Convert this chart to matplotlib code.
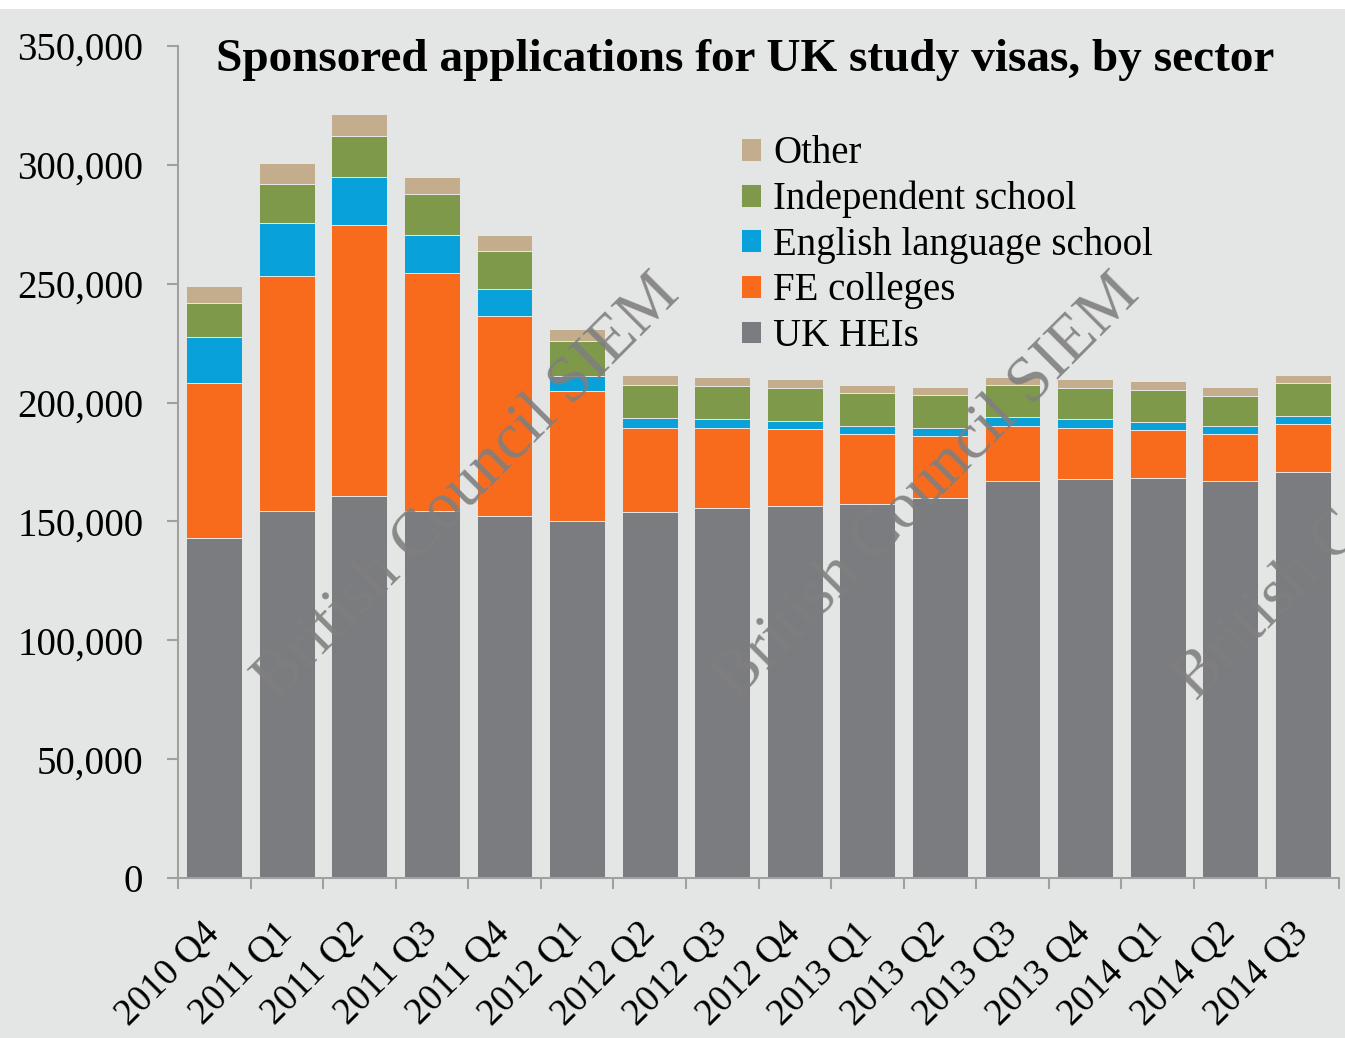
import numpy as np
import matplotlib
matplotlib.use("Agg")
import matplotlib.pyplot as plt
from matplotlib.patches import Rectangle

plt.rcParams['font.family'] = ['Liberation Serif', 'DejaVu Serif']

# quarterly sponsored study visa applications, thousands
quarters = ["2010 Q4", "2011 Q1", "2011 Q2", "2011 Q3", "2011 Q4", "2012 Q1",
            "2012 Q2", "2012 Q3", "2012 Q4", "2013 Q1", "2013 Q2", "2013 Q3",
            "2013 Q4", "2014 Q1", "2014 Q2", "2014 Q3"]
uk_heis = [143.0, 154.4, 160.8, 154.4, 152.2, 150.1, 154.1, 155.7,
           156.4, 157.2, 159.9, 167.1, 167.8, 168.1, 166.8, 170.9]
fe_colleges = [65.4, 98.7, 113.7, 100.2, 84.1, 54.6, 35.2, 33.6,
               32.3, 29.6, 26.2, 23.2, 21.3, 20.4, 20.0, 19.9]
english_lang = [19.2, 22.3, 20.5, 16.0, 11.4, 6.3, 4.1, 3.7,
                3.7, 3.5, 3.3, 3.5, 3.9, 3.4, 3.2, 3.4]
independent = [14.4, 16.7, 17.3, 17.0, 16.1, 15.0, 14.0, 14.1,
               13.8, 13.6, 13.6, 13.4, 13.2, 13.4, 12.9, 14.1]
other = [6.9, 8.7, 9.0, 7.5, 6.7, 4.8, 4.2, 3.8,
         3.7, 3.6, 3.7, 3.7, 3.7, 3.6, 3.7, 3.4]

series = [
    ("UK HEIs", uk_heis, "#7b7c80"),
    ("FE colleges", fe_colleges, "#f86b1d"),
    ("English language school", english_lang, "#08a1d9"),
    ("Independent school", independent, "#7e994a"),
    ("Other", other, "#c4ad8c"),
]

bg = "#e4e6e5"
fig = plt.figure(figsize=(13.45, 10.38), dpi=100, facecolor="white")
fig.patches.append(Rectangle((0, 0), 1, 1 - 9 / 1038, transform=fig.transFigure,
                             facecolor=bg, edgecolor="none", zorder=-10))

ax = fig.add_axes([178 / 1345, 160 / 1038, 1161 / 1345, 832 / 1038])
ax.set_facecolor(bg)

x = np.arange(len(quarters))
bottom = np.zeros(len(quarters))
handles = []
for name, vals, col in series:
    vals = np.array(vals) * 1000
    b = ax.bar(x, vals, width=0.77, bottom=bottom, color=col,
               edgecolor="#e6e6e6", linewidth=0.7, label=name, zorder=2)
    handles.append(b)
    bottom += vals

ax.set_xlim(-0.5, len(quarters) - 0.5)
ax.set_ylim(0, 350000)
ax.set_yticks(np.arange(0, 350001, 50000))
ax.set_yticklabels([f"{v:,}" for v in range(0, 350001, 50000)])

# boundary ticks between bars, labels at bar centres
ax.set_xticks(np.arange(-0.5, len(quarters), 1.0))
ax.set_xticklabels([])
ax.set_xticks(x, minor=True)
ax.set_xticklabels(quarters, minor=True, rotation=45, ha="right", va="center",
                   rotation_mode="anchor")

for s in ["top", "right"]:
    ax.spines[s].set_visible(False)
for s in ["left", "bottom"]:
    ax.spines[s].set_color("#a0a0a0")
    ax.spines[s].set_linewidth(1.5)

ax.tick_params(axis="y", which="major", length=8, width=1.5, color="#a0a0a0",
               labelsize=28, pad=17)
ax.tick_params(axis="x", which="major", length=8, width=1.5, color="#a0a0a0")
ax.tick_params(axis="x", which="minor", length=0, labelsize=27, pad=36)

leg = ax.legend(handles[::-1], [s[0] for s in series][::-1],
                loc="upper left", bbox_to_anchor=((741 - 178) / 1161, (878 - 135) / 832),
                frameon=False, fontsize=28, handlelength=0.52, handleheight=0.52,
                handletextpad=0.3, labelspacing=0.22, borderpad=0, borderaxespad=0)

fig.text(745 / 1345, 1 - 60 / 1038, "Sponsored applications for UK study visas, by sector",
         ha="center", va="center", fontsize=34, fontweight="bold")

# watermark
for cx in [468, 928, 1388]:
    fig.text(cx / 1345, 1 - 488 / 1038, "British Council SIEM", ha="center", va="center",
             rotation=45, rotation_mode="anchor", fontsize=47, color="#7f7f7f",
             alpha=0.9, zorder=20)

fig.savefig("out.png", dpi=100, facecolor=fig.get_facecolor())
